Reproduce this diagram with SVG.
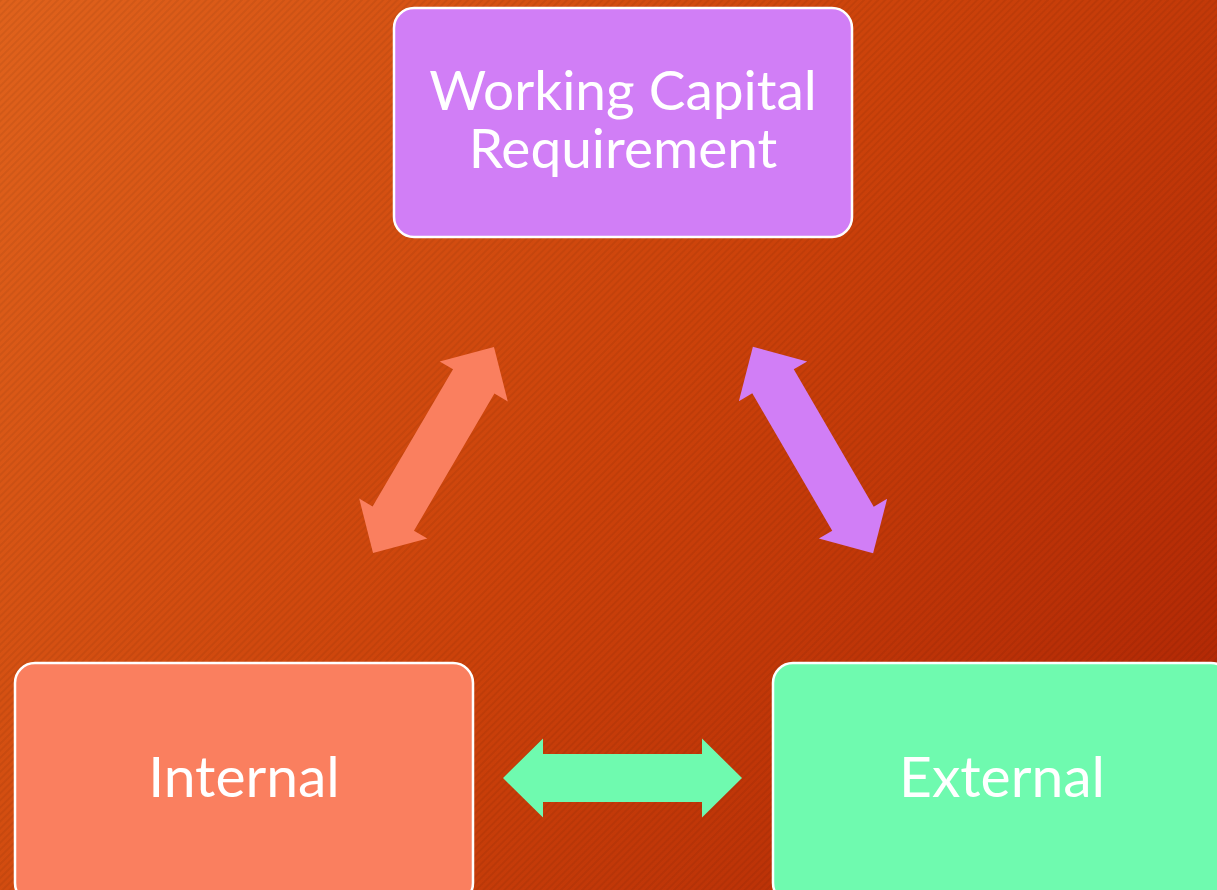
<svg xmlns="http://www.w3.org/2000/svg" width="1217" height="890" viewBox="0 0 1217 890">
  <defs>
    <linearGradient id="bg" x1="0" y1="0" x2="1217" y2="890" gradientUnits="userSpaceOnUse">
      <stop offset="0" stop-color="#E0621C"/>
      <stop offset="0.5" stop-color="#CC420A"/>
      <stop offset="1" stop-color="#AE2404"/>
    </linearGradient>
    <pattern id="stripes" width="5" height="5" patternUnits="userSpaceOnUse" patternTransform="rotate(-45)">
      <rect x="0" y="0" width="5" height="2" fill="#000" fill-opacity="0.06"/>
    </pattern>
    <path id="dblarrow" d="M-119.5,0 L-79.5,-39.5 L-79.5,-24 L79.5,-24 L79.5,-39.5 L119.5,0 L79.5,39.5 L79.5,24 L-79.5,24 L-79.5,39.5 Z"/>
  </defs>
  <style>
    .box { stroke: #FFFFFF; stroke-width: 2.5; }
    .lbl { font-family: "Lato", "Open Sans", "Liberation Sans", sans-serif; font-size: 57px; fill: #FFFFFF; text-anchor: middle; }
    .top { font-size: 55px; }
  </style>
  <rect x="0" y="0" width="1217" height="890" fill="url(#bg)"/>
  <rect x="0" y="0" width="1217" height="890" fill="url(#stripes)"/>

  <g id="connectors">
    <use href="#dblarrow" fill="#FA7F5F" transform="translate(433.5,450) rotate(-59.6)"/>
    <use href="#dblarrow" fill="#D17EF6" transform="translate(813,450) rotate(59.8)"/>
    <use href="#dblarrow" fill="#6FFAAF" transform="translate(622.5,778)"/>
  </g>

  <g id="node-wcr">
    <rect class="box" x="394" y="8" width="458" height="229" rx="20" fill="#D17EF6"/>
    <text class="lbl top" x="623" y="110"><tspan x="623" y="110">Working Capital</tspan><tspan x="623" y="168">Requirement</tspan></text>
  </g>
  <g id="node-internal">
    <rect class="box" x="15" y="663" width="458" height="240" rx="20" fill="#FA7F5F"/>
    <text class="lbl" x="244" y="797">Internal</text>
  </g>
  <g id="node-external">
    <rect class="box" x="773" y="663" width="458" height="240" rx="20" fill="#6FFAAF"/>
    <text class="lbl" x="1002" y="797">External</text>
  </g>
</svg>
